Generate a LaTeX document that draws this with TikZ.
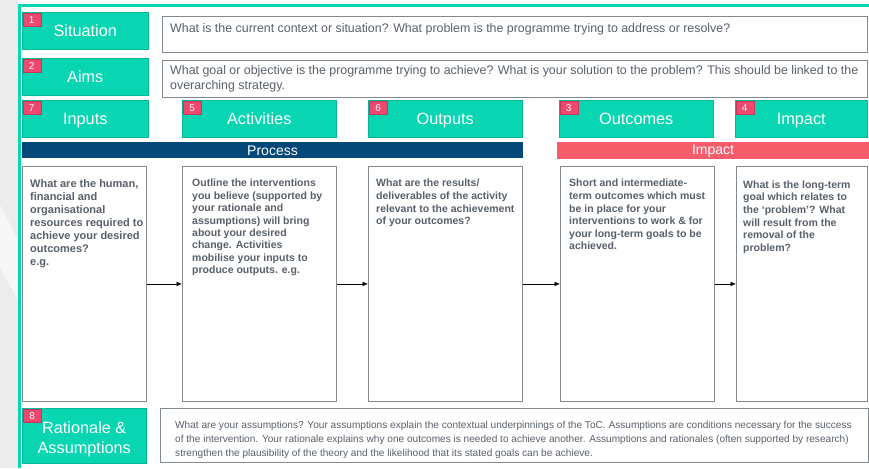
\documentclass[tikz,border=0pt]{standalone}
\usepackage{fontspec}
\setmainfont{Liberation Sans}
\usetikzlibrary{arrows.meta}

\definecolor{tocteal}{RGB}{8,214,178}
\definecolor{tocred}{RGB}{239,71,111}
\definecolor{tocblue}{RGB}{4,72,122}
\definecolor{tocsalmon}{RGB}{246,92,106}
\definecolor{boxgrey}{RGB}{128,136,146}
\definecolor{txtgrey}{RGB}{88,96,106}
\definecolor{stripgrey}{RGB}{236,236,236}

\tikzset{
	head/.style={fill=tocteal, draw=tocteal!85!black, line width=0.5pt, text=white,
		font=\fontsize{16.3}{20}\selectfont, text height=11.7pt, text depth=0pt,
		inner sep=0pt, anchor=north west},
	badge/.style={fill=tocred, draw=tocred!80!black, line width=0.5pt, text=white,
		font=\fontsize{10}{10}\selectfont, minimum width=18pt, minimum height=13pt,
		inner sep=0pt, anchor=north west},
	qbox/.style={draw=boxgrey, line width=0.9pt, fill=white, inner sep=0pt, anchor=north west},
	qtext/.style={text=txtgrey, align=left, inner sep=0pt, anchor=north west},
	bar/.style={text=white, font=\fontsize{14}{14}\selectfont, inner sep=0pt, anchor=north west},
	arr/.style={-{Latex[length=5.5pt,width=4.5pt]}, line width=0.5pt, black}
}

\begin{document}
\begin{tikzpicture}[x=1pt, y=-1pt]
	% Define sizes
	\def\hh{37}   % height of a header
	\def\boxtop{166}
	\def\boxh{235}

	\useasboundingbox (0,0) rectangle (869,468);

	% Grey strip and teal frame
	\fill[stripgrey] (0,0) rectangle (18,468);
	\fill[white!60!stripgrey] (0,205) -- (18,240) -- (18,300) -- (0,268) -- cycle;
	\fill[tocteal] (18,4) rectangle (869,7);
	\fill[tocteal] (18,4) rectangle (21,468);

	% Situation and aims
	\node[head, minimum width=126pt, minimum height=\hh pt] (situation) at (22,12) {Situation};
	\node[head, minimum width=126pt, minimum height=\hh pt] (aims) at (22,58) {Aims};
	\node[qbox, minimum width=705pt, minimum height=36pt] (situationq) at (162,16) {};
	\node[qbox, minimum width=705pt, minimum height=37pt] (aimsq) at (162,60) {};
	\node[qtext, font=\fontsize{12.4}{14.6}\selectfont] (situationtxt) at ([xshift=8pt,yshift=-7.5pt]situationq.north west)
		{What is the current context or situation? What problem is the programme trying to address or resolve?};
	\node[qtext, font=\fontsize{12.4}{14.6}\selectfont] (aimstxt) at ([xshift=8pt,yshift=-5.5pt]aimsq.north west)
		{What goal or objective is the programme trying to achieve? What is your solution to the problem? This should be linked to the\\overarching strategy.};

	% Headers of the chain
	\node[head, minimum width=126pt, minimum height=\hh pt] (inputs) at (22,100) {Inputs};
	\node[head, minimum width=154pt, minimum height=\hh pt] (activities) at (182,100) {Activities};
	\node[head, minimum width=154pt, minimum height=\hh pt] (outputs) at (368,100) {Outputs};
	\node[head, minimum width=154pt, minimum height=\hh pt] (outcomes) at (559,100) {Outcomes};
	\node[head, minimum width=132pt, minimum height=\hh pt] (impact) at (735,100) {Impact};

	% Badges
	\node[badge] (b1) at ([xshift=0.5pt,yshift=-1pt]situation.north west) {1};
	\node[badge] (b2) at ([xshift=0.5pt,yshift=-1.5pt]aims.north west) {2};
	\node[badge] (b7) at ([xshift=0.5pt,yshift=-1pt]inputs.north west) {7};
	\node[badge] (b5) at ([xshift=1pt,yshift=-1.5pt]activities.north west) {5};
	\node[badge] (b6) at ([xshift=1pt,yshift=-1.5pt]outputs.north west) {6};
	\node[badge] (b3) at ([xshift=0.5pt,yshift=-1pt]outcomes.north west) {3};
	\node[badge] (b4) at ([xshift=0.5pt,yshift=-1pt]impact.north west) {4};

	% Process and impact bars
	\fill[tocblue] (22,142) rectangle (523,158);
	\node[bar, anchor=center] (process) at (272.5,150.5) {Process};
	\fill[tocsalmon] (557,142) rectangle (869,159);
	\node[bar, anchor=center] (impactbar) at (713,151) {Impact};

	% Boxes of the chain
	\node[qbox, minimum width=124pt, minimum height=\boxh pt] (inputsbox) at (22,\boxtop) {};
	\node[qbox, minimum width=154pt, minimum height=\boxh pt] (activitiesbox) at (182,\boxtop) {};
	\node[qbox, minimum width=154pt, minimum height=\boxh pt] (outputsbox) at (368,\boxtop) {};
	\node[qbox, minimum width=154pt, minimum height=\boxh pt] (outcomesbox) at (560,\boxtop) {};
	\node[qbox, minimum width=131pt, minimum height=\boxh pt] (impactbox) at (736,\boxtop) {};

	\node[qtext, font=\bfseries\fontsize{11}{13.1}\selectfont] (inputstxt) at ([xshift=8pt,yshift=-13pt]inputsbox.north west)
		{What are the human,\\financial and\\organisational\\resources required to\\achieve your desired\\outcomes?\\e.g.};
	\node[qtext, font=\bfseries\fontsize{10.5}{12.4}\selectfont] (activitiestxt) at ([xshift=10pt,yshift=-13pt]activitiesbox.north west)
		{Outline the interventions\\you believe (supported by\\your rationale and\\assumptions) will bring\\about your desired\\change. Activities\\mobilise your inputs to\\produce outputs. e.g.};
	\node[qtext, font=\bfseries\fontsize{10.5}{12.7}\selectfont] (outputstxt) at ([xshift=8pt,yshift=-13pt]outputsbox.north west)
		{What are the results/\\deliverables of the activity\\relevant to the achievement\\of your outcomes?};
	\node[qtext, font=\bfseries\fontsize{10.5}{12.6}\selectfont] (outcomestxt) at ([xshift=9pt,yshift=-13pt]outcomesbox.north west)
		{Short and intermediate-\\term outcomes which must\\be in place for your\\interventions to work \& for\\your long-term goals to be\\achieved.};
	\node[qtext, font=\bfseries\fontsize{10.5}{12.6}\selectfont] (impacttxt) at ([xshift=7pt,yshift=-14.5pt]impactbox.north west)
		{What is the long-term\\goal which relates to\\the ‘problem’? What\\will result from the\\removal of the\\problem?};

	% Arrows along the chain
	\draw[arr] (inputsbox.east) -- (activitiesbox.west);
	\draw[arr] (activitiesbox.east) -- (outputsbox.west);
	\draw[arr] (outputsbox.east) -- (outcomesbox.west);
	\draw[arr] (outcomesbox.east) -- (impactbox.west);

	% Rationale and assumptions
	\node[head, minimum width=124pt, minimum height=55pt] (rationale) at (22,408) {};
	\node[text=white, align=center, inner sep=0pt, font=\fontsize{16.3}{20}\selectfont] (rationaletitle)
		at ([yshift=-4pt]rationale.center) {Rationale \&\\Assumptions};
	\node[badge] (b8) at ([xshift=1pt,yshift=-1pt]rationale.north west) {8};
	\node[qbox, minimum width=708pt, minimum height=54pt] (rationaleq) at (160,408) {};
	\node[qtext, font=\fontsize{10.1}{14.2}\selectfont] (rationaletxt) at ([xshift=15pt,yshift=-13pt]rationaleq.north west)
		{What are your assumptions? Your assumptions explain the contextual underpinnings of the ToC. Assumptions are conditions necessary for the success\\of the intervention. Your rationale explains why one outcomes is needed to achieve another. Assumptions and rationales (often supported by research)\\strengthen the plausibility of the theory and the likelihood that its stated goals can be achieve.};
\end{tikzpicture}
\end{document}
